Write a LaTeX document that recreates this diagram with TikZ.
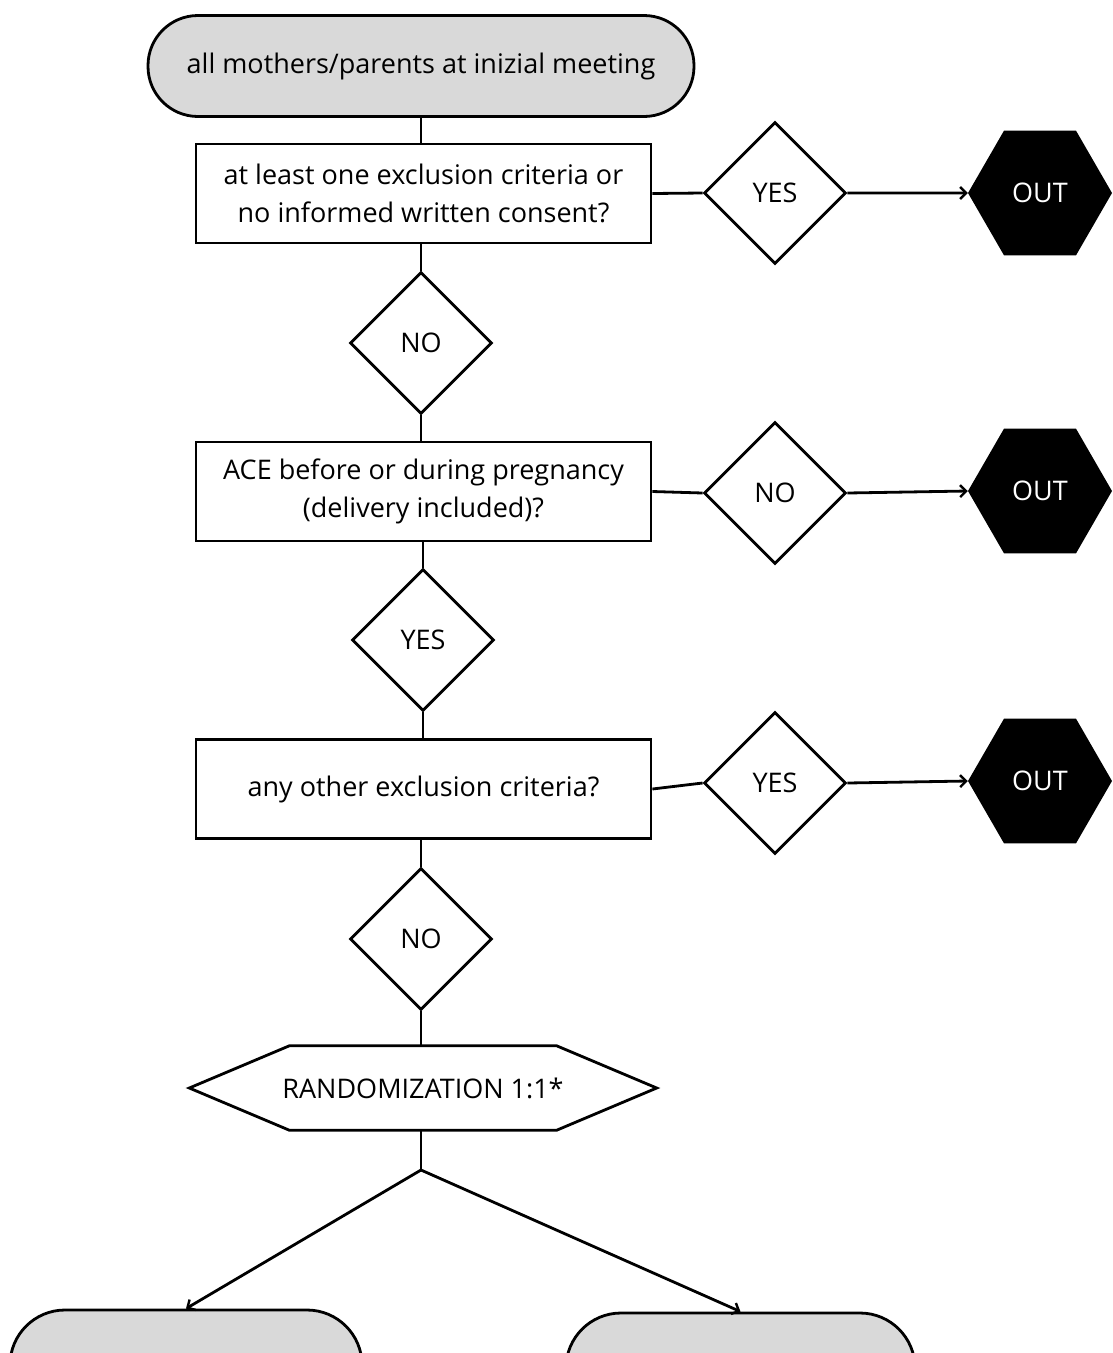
\documentclass[tikz,border=0pt]{standalone}
\usepackage{fontspec}
\setmainfont{Open Sans}
\usetikzlibrary{shapes.geometric,arrows.meta}
\definecolor{termgray}{HTML}{D9D9D9}
\tikzset{
  every picture/.style={x=1pt,y=-1pt},
  conn/.style={line width=2.8pt,black},
  arr/.style={conn,-{Straight Barb[length=6pt,width=12pt,line width=2.4pt]}},
  term/.style={draw,line width=2.8pt,fill=termgray,rounded corners=50pt,minimum width=546pt,minimum height=101pt,inner sep=0pt,font=\fontsize{27}{32}\selectfont},
  qbox/.style={draw,line width=2.8pt,fill=white,minimum width=455pt,minimum height=99pt,align=center,inner sep=0pt,font=\fontsize{27}{38}\selectfont},
  dec/.style={draw,line width=2.8pt,fill=white,diamond,minimum width=142pt,minimum height=142pt,inner sep=0pt,font=\fontsize{27}{32}\selectfont},
  outhex/.style={regular polygon,regular polygon sides=6,fill=black,text=white,minimum size=144pt,inner sep=0pt,font=\fontsize{27}{32}\selectfont},
  armbox/.style={draw,line width=2.8pt,fill=termgray,rounded corners=55pt,minimum height=200pt,inner sep=0pt},
}
\begin{document}
\begin{tikzpicture}
\useasboundingbox (0,0) rectangle (1112,1353);
\clip (0,0) rectangle (1112,1353);
% nodes
\node[term] (start) at (421,66) {all mothers/parents at inizial meeting};
\node[qbox] (b1) at (423.5,193.5) {at least one exclusion criteria or\\no informed written consent?};
\node[dec] (d1) at (775,193) {YES};
\node[outhex] (o1) at (1040,193) {OUT};
\node[dec] (n1) at (421,343) {NO};
\node[qbox] (b2) at (423.5,491.5) {ACE before or during pregnancy\\(delivery included)?};
\node[dec] (d2) at (775,493) {NO};
\node[outhex] (o2) at (1040,491) {OUT};
\node[dec] (y2) at (423,640) {YES};
\node[qbox] (b3) at (423.5,789) {any other exclusion criteria?};
\node[dec] (d3) at (775,783) {YES};
\node[outhex] (o3) at (1040,781) {OUT};
\node[dec] (n3) at (421,939) {NO};
\node[minimum width=467pt,minimum height=84pt,inner sep=0pt,font=\fontsize{27}{32}\selectfont] (r) at (423,1088) {RANDOMIZATION 1:1*};
\draw[line width=2.8pt,line join=miter] (r.west) -- ([xshift=100pt]r.north west) -- ([xshift=-100pt]r.north east) -- (r.east) -- ([xshift=-100pt]r.south east) -- ([xshift=100pt]r.south west) -- cycle;
\coordinate (j) at (421,1170);
\node[armbox,minimum width=352pt] (left) at (186,1410) {};
\node[armbox,minimum width=349pt] (right) at (740.5,1413) {};
% connectors
\draw[conn] (start.south -| 421,0) -- (b1.north -| 421,0);
\draw[conn] (b1.east) -- (d1.west);
\draw[arr] (d1.east) -- (o1.west);
\draw[conn] (b1.south -| n1.north) -- (n1.north);
\draw[conn] (n1.south) -- (b2.north -| n1.south);
\draw[conn] (b2.east) -- (d2.west);
\draw[arr] (d2.east) -- (o2.west);
\draw[conn] (b2.south -| y2.north) -- (y2.north);
\draw[conn] (y2.south) -- (b3.north -| y2.south);
\draw[conn] (b3.east) -- (d3.west);
\draw[arr] (d3.east) -- (o3.west);
\draw[conn] (b3.south -| n3.north) -- (n3.north);
\draw[conn] (n3.south) -- (r.north -| n3.south);
\draw[conn] (r.south -| j) -- (j);
\draw[arr] (j) -- (left.north);
\draw[arr] (j) -- (right.north);
\end{tikzpicture}
\end{document}
